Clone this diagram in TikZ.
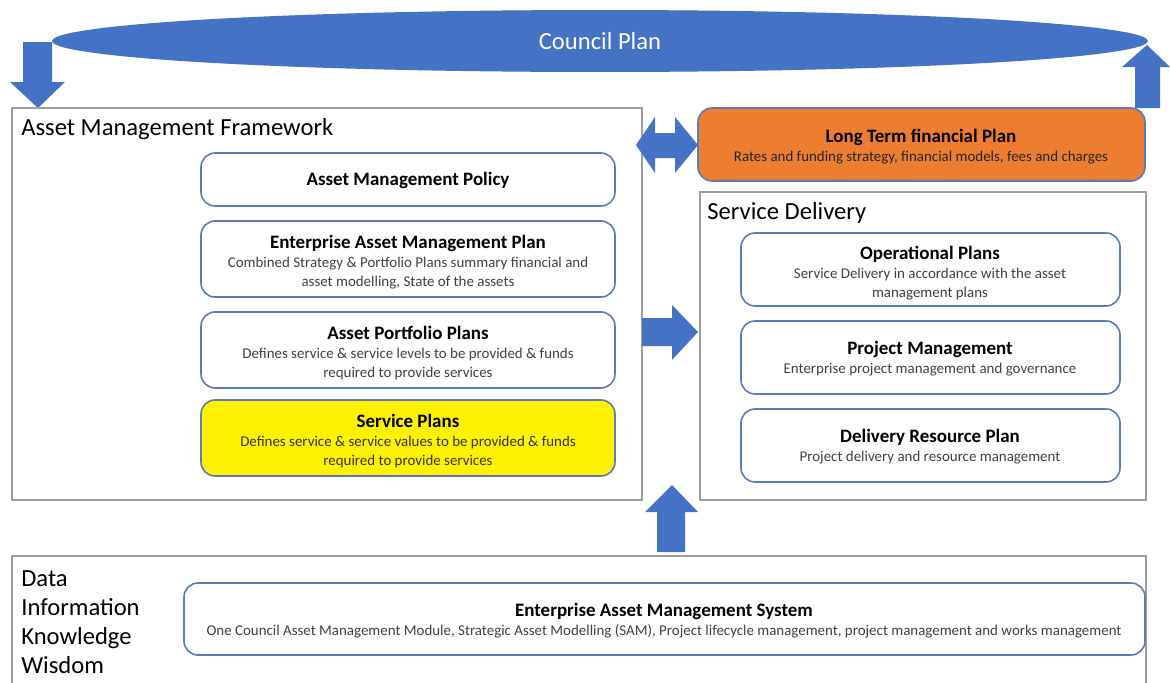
\documentclass[tikz,border=0pt]{standalone}
\usepackage{fontspec}
\setmainfont{Carlito}
\usetikzlibrary{shapes.geometric}
\definecolor{officeblue}{HTML}{4472C4}
\definecolor{officeorange}{HTML}{ED7D31}
\definecolor{boxline}{HTML}{5B7BB8}
\definecolor{frameline}{HTML}{9E9E9E}
\definecolor{subtext}{HTML}{404040}
\newcommand{\plantext}[2]{{\fontsize{10.8}{12.6}\selectfont\bfseries\color{black}#1}\\#2}
\tikzset{
    frame/.style={draw=frameline,line width=0.8pt},
    plan/.style={draw=boxline,line width=0.9pt,rounded corners=0.28cm,fill=white},
    plantitle/.style={align=center,inner sep=0pt,text=subtext,font=\fontsize{8.5}{10.8}\selectfont},
    bigtext/.style={font=\fontsize{14}{16.6}\selectfont,inner sep=0pt},
    blockarrow/.style={fill=officeblue}
}
\begin{document}
\begin{tikzpicture}[x=0.02cm,y=-0.02cm]
        \useasboundingbox (0,0) rectangle (1171,683);
        % Council plan ellipse
        \node[ellipse,fill=officeblue,minimum width=21.92cm,minimum height=1.24cm,inner sep=0pt,
            text=white,font=\fontsize{14}{16}\selectfont] (council) at (600,41) {Council Plan};
        % Arrows to and from the council plan
        \fill[blockarrow] (23,42) -- (52,42) -- (52,82) -- (65,82) -- (38,108) -- (10,82) -- (23,82) -- cycle;
        \fill[blockarrow] (1135,108) -- (1135,67) -- (1122,67) -- (1147,45) -- (1170,67) -- (1160,67) -- (1160,108) -- cycle;
        % Asset management framework
        \draw[frame] (12,108) rectangle (642,500);
        \node[bigtext,anchor=west] (amf) at (21,129) {Asset Management Framework};
        \draw[plan] (201,153) rectangle (615,206);
        \node[plantitle,text=black,font=\fontsize{10.8}{12.6}\selectfont\bfseries] (policy) at (408,180) {Asset Management Policy};
        \draw[plan] (201,221) rectangle (615,297);
        \node[plantitle] (eamp) at (408,262) {\plantext{Enterprise Asset Management Plan}{Combined Strategy \& Portfolio Plans summary financial and\\asset modelling, State of the assets}};
        \draw[plan] (201,312) rectangle (615,388);
        \node[plantitle] (portfolio) at (408,353) {\plantext{Asset Portfolio Plans}{Defines service \& service levels to be provided \& funds\\required to provide services}};
        \draw[plan,fill=yellow] (201,400) rectangle (615,476);
        \node[plantitle,text=black!80] (service) at (408,441) {\plantext{Service Plans}{Defines service \& service values to be provided \& funds\\required to provide services}};
        % Long term financial plan
        \fill[blockarrow] (636,145) -- (655,117) -- (655,133) -- (675,133) -- (675,117) -- (698,145)
            -- (675,173) -- (675,158) -- (655,158) -- (655,173) -- cycle;
        \draw[plan,fill=officeorange] (698,108) rectangle (1145,181);
        \node[plantitle,text=black!85] (ltfp) at (921,147) {\plantext{Long Term financial Plan}{Rates and funding strategy, financial models, fees and charges}};
        % Service delivery
        \fill[blockarrow] (642,318) -- (672,318) -- (672,305) -- (698,332) -- (672,360) -- (672,346) -- (642,346) -- cycle;
        \draw[frame] (700,192) rectangle (1146,500);
        \node[bigtext,anchor=west] (sd) at (707,213) {Service Delivery};
        \draw[plan] (741,233) rectangle (1120,306);
        \node[plantitle] (operational) at (930,273) {\plantext{Operational Plans}{Service Delivery in accordance with the asset\\management plans}};
        \draw[plan] (741,321) rectangle (1120,394);
        \node[plantitle] (project) at (930,359) {\plantext{Project Management}{Enterprise project management and governance}};
        \draw[plan] (741,409) rectangle (1120,482);
        \node[plantitle] (resource) at (930,447) {\plantext{Delivery Resource Plan}{Project delivery and resource management}};
        % Enterprise asset management system
        \fill[blockarrow] (657,552) -- (657,512) -- (645,512) -- (672,485) -- (698,512) -- (685,512) -- (685,552) -- cycle;
        \draw[frame] (12,683) -- (12,556) -- (1146,556) -- (1146,683);
        \node[bigtext,anchor=north west,align=left] (dikw) at (21,570) {Data\\Information\\Knowledge\\Wisdom};
        \draw[plan] (184,583) rectangle (1145,655);
        \node[plantitle] (eams) at (664,621) {\plantext{Enterprise Asset Management System}{One Council Asset Management Module, Strategic Asset Modelling (SAM), Project lifecycle management, project management and works management}};
    \end{tikzpicture}
\end{document}
